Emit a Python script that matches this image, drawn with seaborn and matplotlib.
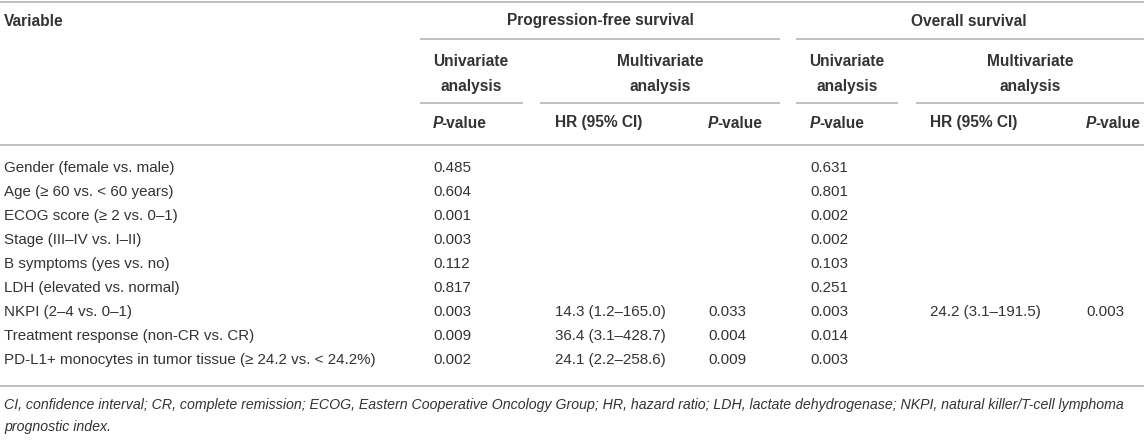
import matplotlib
matplotlib.use("Agg")
import matplotlib.pyplot as plt
import seaborn as sns

# Table data
variables = ["Gender (female vs. male)",
             "Age (≥ 60 vs. < 60 years)",
             "ECOG score (≥ 2 vs. 0–1)",
             "Stage (III–IV vs. I–II)",
             "B symptoms (yes vs. no)",
             "LDH (elevated vs. normal)",
             "NKPI (2–4 vs. 0–1)",
             "Treatment response (non-CR vs. CR)",
             "PD-L1+ monocytes in tumor tissue (≥ 24.2 vs. < 24.2%)"]
pfs_uni_p = ["0.485", "0.604", "0.001", "0.003", "0.112", "0.817", "0.003", "0.009", "0.002"]
pfs_hr = ["", "", "", "", "", "", "14.3 (1.2–165.0)", "36.4 (3.1–428.7)", "24.1 (2.2–258.6)"]
pfs_multi_p = ["", "", "", "", "", "", "0.033", "0.004", "0.009"]
os_uni_p = ["0.631", "0.801", "0.002", "0.002", "0.103", "0.251", "0.003", "0.014", "0.003"]
os_hr = ["", "", "", "", "", "", "24.2 (3.1–191.5)", "", ""]
os_multi_p = ["", "", "", "", "", "", "0.003", "", ""]
footnote = ("CI, confidence interval; CR, complete remission; ECOG, Eastern Cooperative Oncology Group; "
            "HR, hazard ratio; LDH, lactate dehydrogenase; NKPI, natural killer/T-cell lymphoma\n"
            "prognostic index.")

sns.set_theme(style="white")
plt.rcParams['font.family'] = ['Liberation Sans', 'DejaVu Sans']

txt = '#333333'
rule = '#b5b5b5'
fs = 10.9
fs_head = 11.2

fig = plt.figure(figsize=(11.44, 4.47), dpi=100)
ax = fig.add_axes([0, 0, 1, 1])
ax.set_xlim(0, 1144)
ax.set_ylim(447, 0)
ax.axis('off')
renderer = fig.canvas.get_renderer()

# header rules
ax.hlines(2, 0, 1144, color=rule, lw=1.2)
ax.hlines([39, 39], [420, 796], [780, 1144], color=rule, lw=1.2)
ax.hlines([103] * 4, [420, 540, 796, 916], [523, 780, 898, 1144], color=rule, lw=1.2)
ax.hlines(145, 0, 1144, color=rule, lw=1.2)
ax.hlines(386, 0, 1144, color=rule, lw=1.2)

hd = dict(color=txt, fontsize=fs_head, fontweight='bold', va='center')
ax.text(4, 21, "Variable", ha='left', **hd)
ax.text(600, 21, "Progression-free survival", ha='center', **hd)
ax.text(969, 21, "Overall survival", ha='center', **hd)
for cx, label in [(471, "Univariate"), (660, "Multivariate"),
                  (847, "Univariate"), (1030, "Multivariate")]:
    ax.text(cx, 61, label, ha='center', **hd)
    ax.text(cx, 86, "analysis", ha='center', **hd)


def p_value_head(x, y):
    # italic P followed by plain "-value", both bold
    p = ax.text(x, y, "P", ha='left', va='baseline', color=txt, fontsize=fs_head,
                fontweight='bold', style='italic')
    w = p.get_window_extent(renderer).width
    ax.text(x + w - 1.5, y, "-value", ha='left', va='baseline', color=txt,
            fontsize=fs_head, fontweight='bold')


col_x = [433, 555, 708, 810, 930, 1086]
sub_heads = ["P", "HR (95% CI)", "P", "P", "HR (95% CI)", "P"]
for x, label in zip(col_x, sub_heads):
    if label == "P":
        p_value_head(x, 127.5)
    else:
        ax.text(x, 127.5, label, ha='left', va='baseline', color=txt,
                fontsize=fs_head, fontweight='bold')

cols = [pfs_uni_p, pfs_hr, pfs_multi_p, os_uni_p, os_hr, os_multi_p]
for i, var in enumerate(variables):
    y = 168 + 24 * i
    ax.text(4, y, var, color=txt, fontsize=fs, va='center', ha='left')
    for x, col in zip(col_x, cols):
        if col[i]:
            ax.text(x, y, col[i], color=txt, fontsize=fs, va='center', ha='left')

ax.text(4, 398, footnote, color=txt, fontsize=10.2, style='italic', va='top', ha='left',
        linespacing=1.74)

fig.savefig('out.png', dpi=100)
